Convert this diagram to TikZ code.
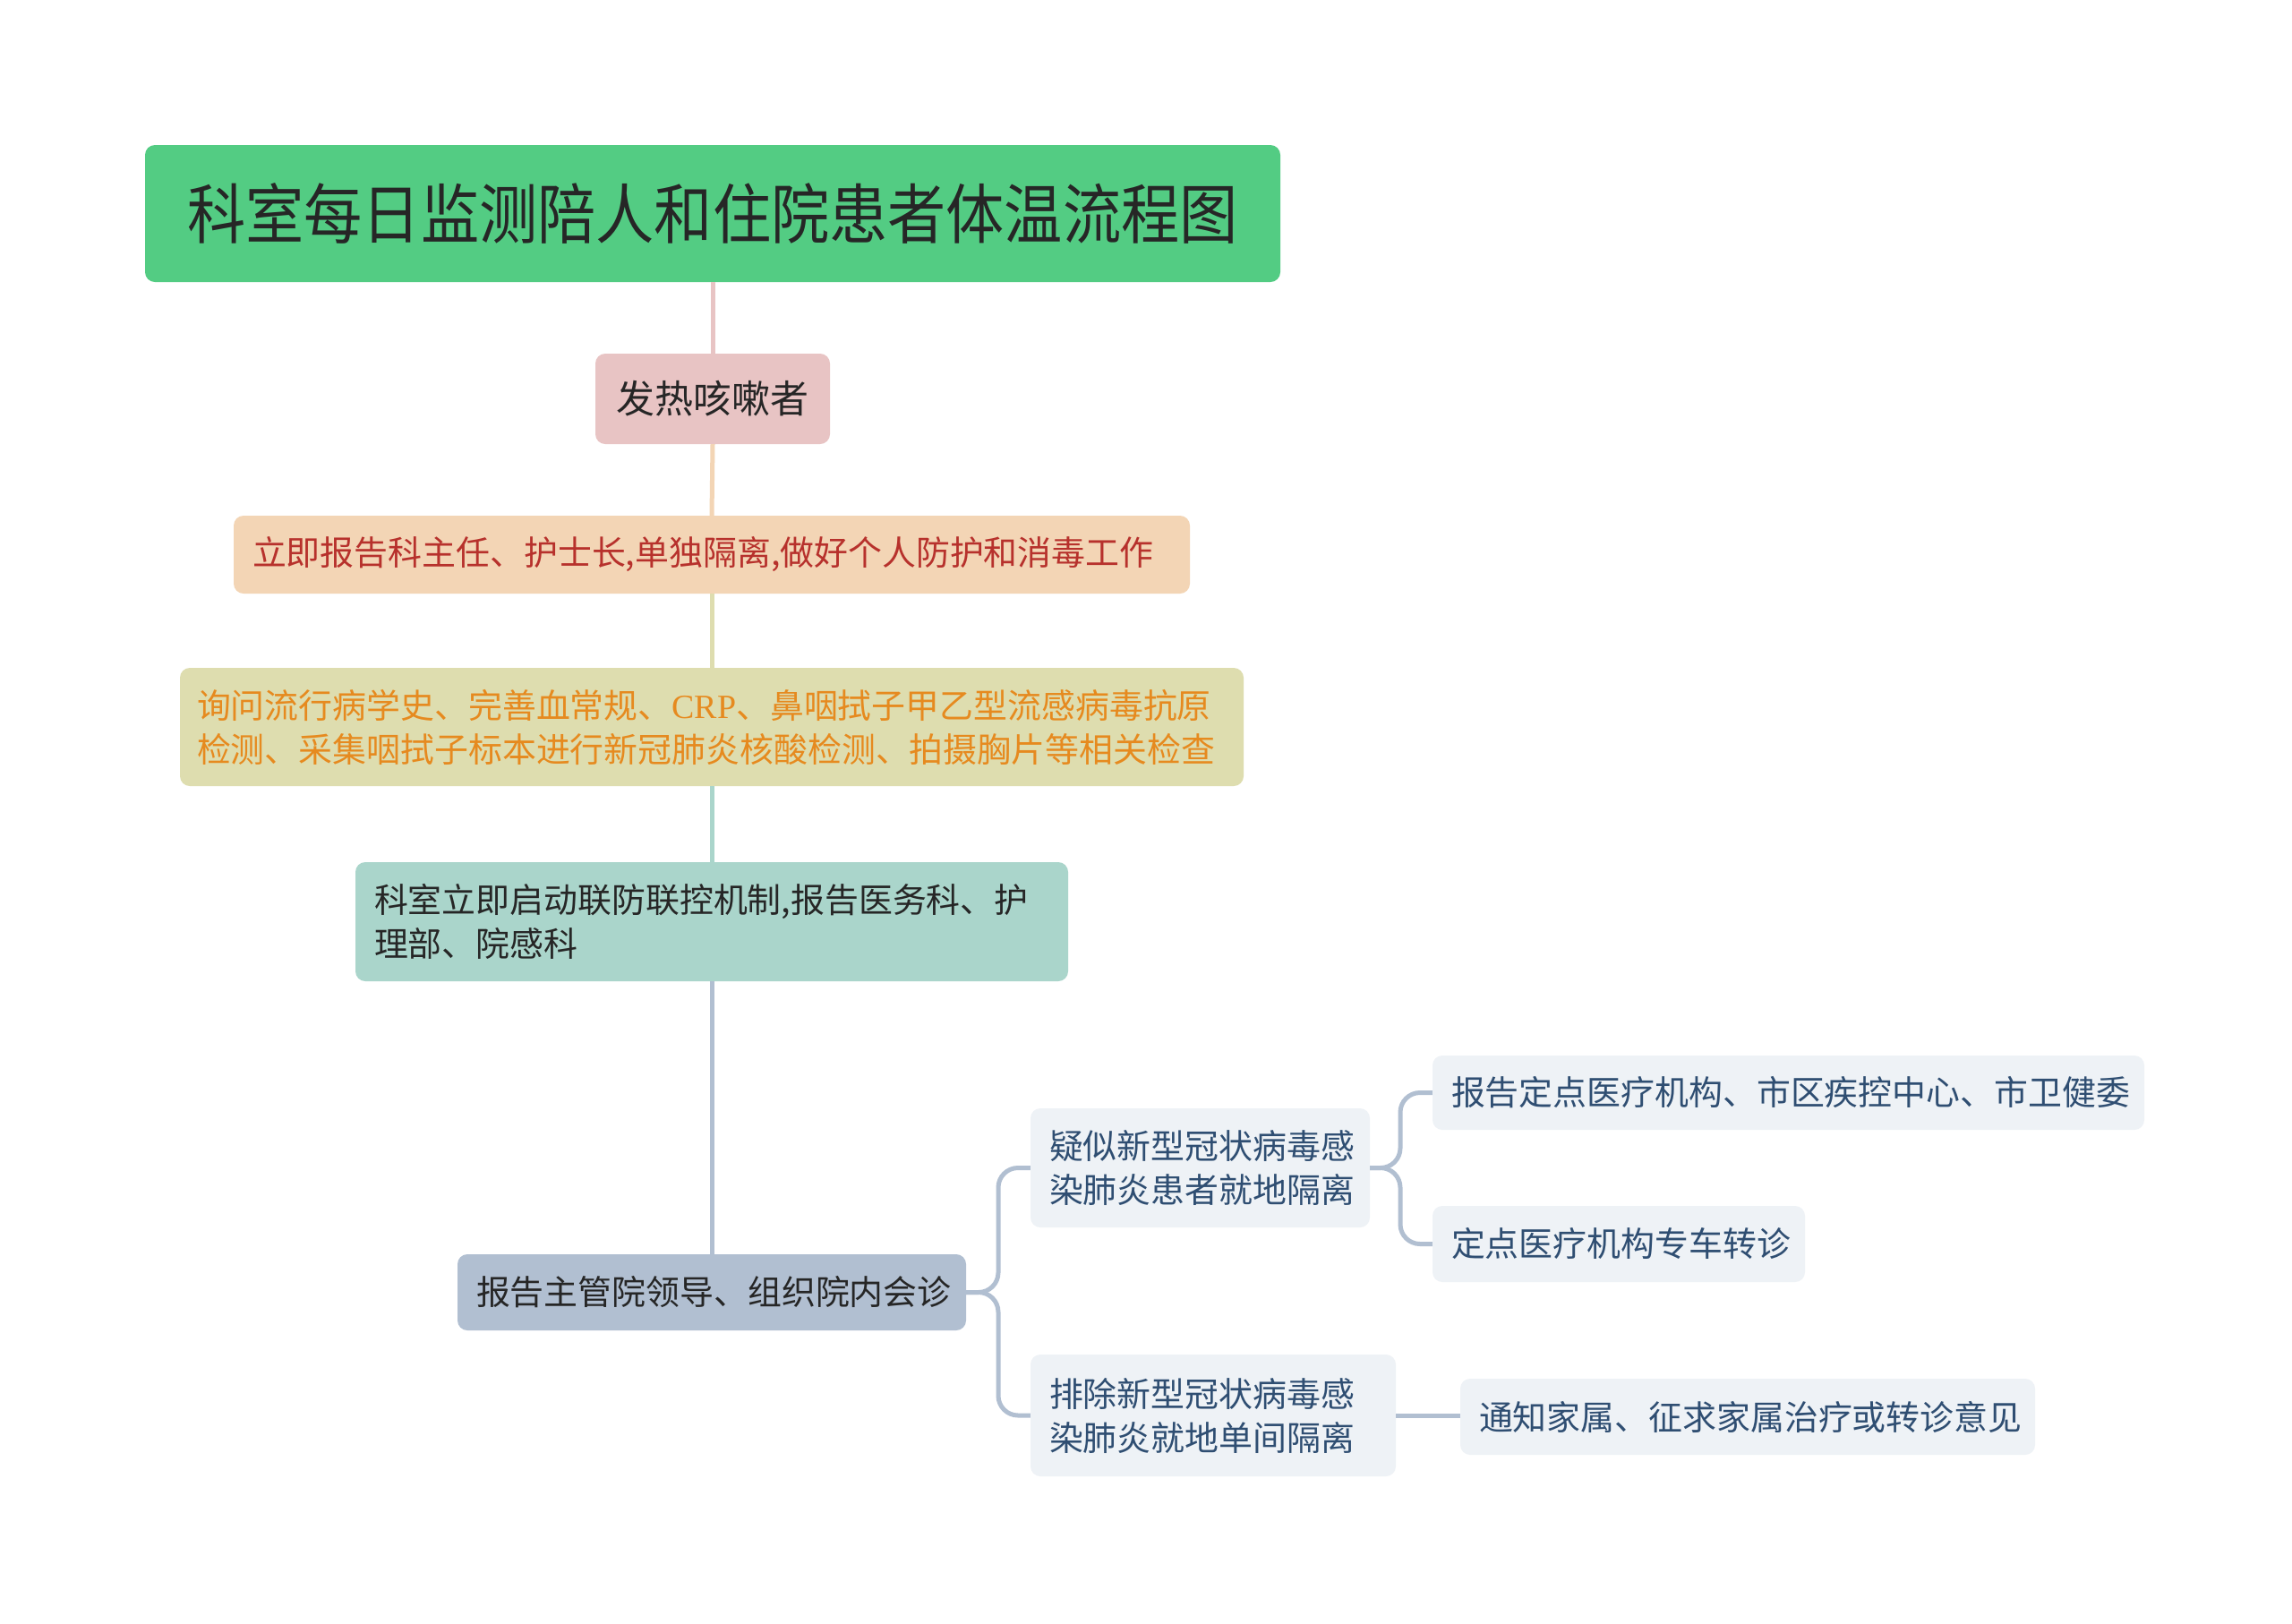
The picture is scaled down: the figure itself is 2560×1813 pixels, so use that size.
\documentclass[tikz,border=0pt]{standalone}
\usepackage{fontspec}
\setmainfont{Noto Sans CJK SC}
\newfontfamily\serifen{Liberation Serif}
\newfontfamily\rootfont[FakeStretch=0.893]{Noto Sans CJK SC}
\definecolor{rootfill}{HTML}{53CC83}
\definecolor{pinkfill}{HTML}{E8C4C4}
\definecolor{peachfill}{HTML}{F3D5B5}
\definecolor{khakifill}{HTML}{DEDDAF}
\definecolor{tealfill}{HTML}{AAD5CB}
\definecolor{greyfill}{HTML}{B1BFD1}
\definecolor{lightfill}{HTML}{EEF2F6}
\definecolor{redtext}{HTML}{B7312C}
\definecolor{orangetext}{HTML}{E68A1F}
\definecolor{bluetext}{HTML}{2F4E72}
\definecolor{darktext}{HTML}{262626}
\begin{document}
\begin{tikzpicture}[x=1pt,y=-1pt,
  box/.style={rectangle, rounded corners=11pt, inner ysep=0pt, anchor=center, align=left},
  conn/.style={line width=5pt},
]
\useasboundingbox[fill=white] (0,0) rectangle (2560,1813);
% main column
\node[box, fill=rootfill, text=darktext, font=\rootfont\fontsize{73}{88}\selectfont,
  minimum height=153pt, text width=1268pt-60pt, inner xsep=30pt, align=center] (root) at (796,238.5)
  {科室每日监测陪人和住院患者体温流程图};
\node[box, fill=pinkfill, text=darktext, font=\fontsize{43}{52}\selectfont,
  minimum height=101pt, text width=262pt-40pt, inner xsep=20pt, align=center] (fa) at (796,445.5)
  {发热咳嗽者};
\node[box, fill=peachfill, text=redtext, font=\fontsize{37.9}{49}\selectfont,
  minimum height=87pt, text width=1068pt-42pt, inner xsep=21pt] (li) at (795,619.5)
  {立即报告科主任、护士长,单独隔离,做好个人防护和消毒工作};
\node[box, fill=khakifill, text=orangetext, font=\fontsize{37.9}{49}\selectfont,
  minimum height=132pt, text width=1188pt-38pt, inner xsep=19pt] (xw) at (795,812)
  {询问流行病学史、完善血常规、{\serifen CRP}、鼻咽拭子甲乙型流感病毒抗原\\检测、采集咽拭子标本进行新冠肺炎核酸检测、拍摄胸片等相关检查};
\node[box, fill=tealfill, text=darktext, font=\fontsize{37.9}{49}\selectfont,
  minimum height=133pt, text width=796pt-42pt, inner xsep=21pt] (ks) at (795,1029.5)
  {科室立即启动联防联控机制,报告医务科、护\\理部、院感科};
\node[box, fill=greyfill, text=darktext, font=\fontsize{37.9}{49}\selectfont,
  minimum height=85pt, text width=568pt-42pt, inner xsep=21pt] (bg) at (795,1443.5)
  {报告主管院领导、组织院内会诊};
% level 2
\node[box, fill=lightfill, text=bluetext, font=\fontsize{37.9}{49}\selectfont,
  minimum height=133pt, text width=379pt-42pt, inner xsep=21pt] (ys) at (1340.5,1304.5)
  {疑似新型冠状病毒感\\染肺炎患者就地隔离};
\node[box, fill=lightfill, text=bluetext, font=\fontsize{37.9}{49}\selectfont,
  minimum height=136pt, text width=408pt-42pt, inner xsep=21pt] (pc) at (1355,1581)
  {排除新型冠状病毒感\\染肺炎就地单间隔离};
% level 3
\node[box, fill=lightfill, text=bluetext, font=\fontsize{37.9}{49}\selectfont,
  minimum height=83pt, text width=795pt-42pt, inner xsep=21pt] (bd) at (1997.5,1220.5)
  {报告定点医疗机构、市区疾控中心、市卫健委};
\node[box, fill=lightfill, text=bluetext, font=\fontsize{37.9}{49}\selectfont,
  minimum height=85pt, text width=416pt-42pt, inner xsep=21pt] (dd) at (1808,1389.5)
  {定点医疗机构专车转诊};
\node[box, fill=lightfill, text=bluetext, font=\fontsize{37.9}{49}\selectfont,
  minimum height=85pt, text width=642pt-42pt, inner xsep=21pt] (tz) at (1952,1582.5)
  {通知家属、征求家属治疗或转诊意见};
% connectors
\draw[conn, draw=pinkfill] (root.south) -- (fa.north);
\draw[conn, draw=peachfill] (fa.south) -- (li.north);
\draw[conn, draw=khakifill] (li.south) -- (li.south |- xw.north);
\draw[conn, draw=tealfill] (xw.south) -- (ks.north);
\draw[conn, draw=greyfill] (ks.south) -- (bg.north);
\coordinate (j1) at (1115,1443.5);
\draw[conn, draw=greyfill, rounded corners=22pt] (bg.east) -- (j1) |- (ys.west);
\draw[conn, draw=greyfill, rounded corners=22pt] (bg.east) -- (j1) |- (pc.west);
\coordinate (j2) at (1564,1304.5);
\draw[conn, draw=greyfill, rounded corners=22pt] (ys.east) -- (j2) |- (bd.west);
\draw[conn, draw=greyfill, rounded corners=22pt] (ys.east) -- (j2) |- (dd.west);
\draw[conn, draw=greyfill] (pc.east) -- (pc.east -| tz.west);
\end{tikzpicture}
\end{document}
